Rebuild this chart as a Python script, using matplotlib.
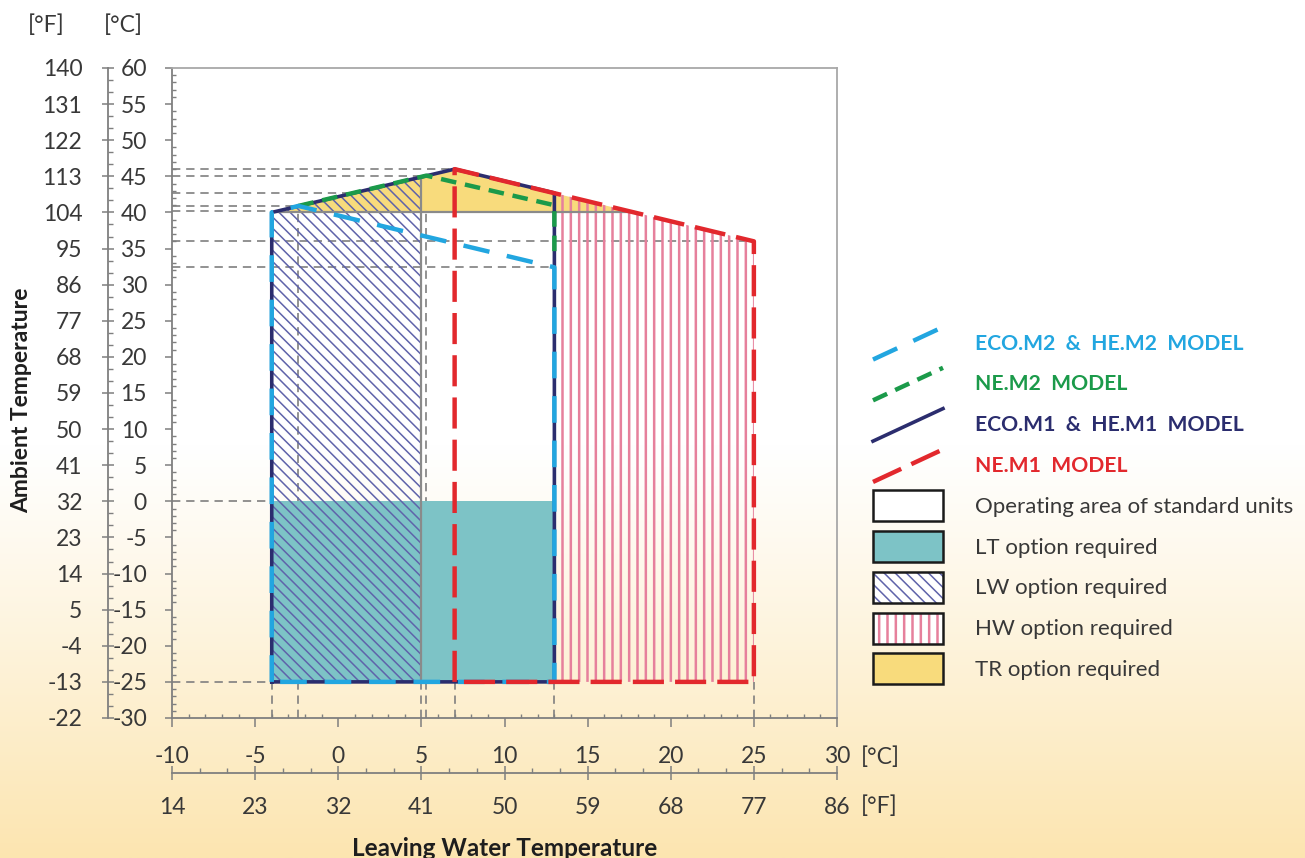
import numpy as np
import matplotlib
matplotlib.use('Agg')
import matplotlib.pyplot as plt
from matplotlib.patches import Rectangle, Patch
from matplotlib.lines import Line2D
from matplotlib.ticker import MultipleLocator
from matplotlib.legend_handler import HandlerBase

plt.rcParams['font.family'] = ['Lato', 'DejaVu Sans']

# ---------------- data ----------------
x_ticks_c = [-10, -5, 0, 5, 10, 15, 20, 25, 30]
x_labels_c = ['-10', '-5', '0', '5', '10', '15', '20', '25', '30']
x_labels_f = ['14', '23', '32', '41', '50', '59', '68', '77', '86']
y_ticks_c = [-30, -25, -20, -15, -10, -5, 0, 5, 10, 15, 20, 25, 30, 35, 40, 45, 50, 55, 60]
y_labels_c = ['-30', '-25', '-20', '-15', '-10', '-5', '0', '5', '10', '15', '20',
              '25', '30', '35', '40', '45', '50', '55', '60']
y_labels_f = ['-22', '-13', '-4', '5', '14', '23', '32', '41', '50', '59', '68',
              '77', '86', '95', '104', '113', '122', '131', '140']

# model envelopes (LWT degC, ambient degC)
eco_m1_x = [-4, -4, 7, 13, 13, -4]
eco_m1_y = [-25, 40, 46, 42.7, -25, -25]
eco_m2_x = [-4, -4, -2.4, 13, 13, -4]
eco_m2_y = [-25, 40, 40.9, 32.4, -25, -25]
ne_m2_x = [-2.4, 5.3, 13, 13]
ne_m2_y = [40.9, 45.1, 41, 33.5]
ne_m1_x = [7, 7, 25, 25, 7]
ne_m1_y = [-25, 46, 36, -25, -25]

# option areas
lt_x = [-4, 13, 13, -4]
lt_y = [-25, -25, 0, 0]
lw_x = [-4, -4, 5, 5]
lw_y = [-25, 40, 44.9, -25]
hw_x = [13, 13, 25, 25]
hw_y = [-25, 42.7, 36, -25]
tr_x = [-4, 7, 17.8]
tr_y = [40, 46, 40]

# guide lines
guide_h_y = [46, 45.1, 42.7, 40.9, 40.2, 36, 32.4, 0, -25]
guide_h_xend = [7, 5.3, 13, -2.4, -4, 25, 13, -4, -4]
guide_v_x = [-4, -2.4, 5, 5.3, 7, 13, 25]
guide_v_ytop = [-25, 40.9, -25, 45.1, -25, -25, -25]

legend_labels = ['ECO.M2  &  HE.M2  MODEL', 'NE.M2  MODEL', 'ECO.M1  &  HE.M1  MODEL',
                 'NE.M1  MODEL', 'Operating area of standard units', 'LT option required',
                 'LW option required', 'HW option required', 'TR option required']

# ---------------- styles ----------------
navy = '#2B2D6E'
blue = '#22A6E0'
green = '#1B9A4A'
red = '#E2282D'
teal = '#7DC3C6'
yellow = '#F8DB7C'
lw_hatch_c = '#5F63AA'
hw_hatch_c = '#E6809C'
gray = '#7F7F7F'
txt = '#383838'
TICK_FS = 16.5

W, H = 1305, 858
fig = plt.figure(figsize=(W / 100, H / 100), dpi=100)

# background gradient
bg = fig.add_axes([0, 0, 1, 1], zorder=-10)
bg.axis('off')
t = np.linspace(0, 1, 500)
frac = np.clip((t - 0.52) / 0.48, 0, 1) ** 1.1
top_c = np.array([255, 255, 255]) / 255
bot_c = np.array([252, 229, 176]) / 255
grad = top_c[None, :] * (1 - frac[:, None]) + bot_c[None, :] * frac[:, None]
bg.imshow(np.repeat(grad[:, None, :], 2, axis=1), aspect='auto',
          extent=[0, 1, 0, 1], origin='upper')
bg.set_xlim(0, 1)
bg.set_ylim(0, 1)

# main axes
ax = fig.add_axes([172 / W, 1 - 718 / H, 665 / W, 650 / H])
ax.set_xlim(-10, 30)
ax.set_ylim(-30, 60)
ax.patch.set_alpha(0)

# guides
for yv, xe in zip(guide_h_y, guide_h_xend):
    ax.plot([-10, xe], [yv, yv], color=gray, lw=1.2, ls=(0, (5, 3.5)), zorder=1)
for xv, yt in zip(guide_v_x, guide_v_ytop):
    ax.plot([xv, xv], [-30, yt], color=gray, lw=1.2, ls=(0, (5, 3.5)), zorder=1)


def set_hlw(p, v):
    if hasattr(p, 'set_hatch_linewidth'):
        p.set_hatch_linewidth(v)


# fills
ax.fill(lt_x, lt_y, facecolor=teal, edgecolor='none', zorder=2)
ax.fill(tr_x, tr_y, facecolor=yellow, edgecolor='none', zorder=2)
with plt.rc_context({'hatch.linewidth': 1.1}):
    p_lw = ax.fill(lw_x, lw_y, facecolor='none', edgecolor=lw_hatch_c,
                   hatch='\\\\\\', linewidth=0, zorder=3)[0]
set_hlw(p_lw, 1.1)
with plt.rc_context({'hatch.linewidth': 1.8}):
    p_hw = ax.fill(hw_x, hw_y, facecolor='none', edgecolor=hw_hatch_c,
                   hatch='||', linewidth=0, zorder=3)[0]
set_hlw(p_hw, 1.8)

# area boundaries (solid gray)
ax.plot([lw_x[0], tr_x[2]], [tr_y[0], tr_y[2]], color='#8A8A8A', lw=1.6, zorder=3.5)
ax.plot([lw_x[2], lw_x[3]], [lw_y[2], lw_y[3]], color='#8A8A8A', lw=1.6, zorder=3.5)

# model lines
ax.plot(eco_m1_x, eco_m1_y, color=navy, lw=2.6, zorder=5)
ax.plot(ne_m2_x, ne_m2_y, color=green, lw=3.2, ls=(0, (3.5, 2)), zorder=6)
ax.plot(eco_m2_x, eco_m2_y, color=blue, lw=3.2, ls=(0, (6, 4)), zorder=7)
ax.plot(ne_m1_x, ne_m1_y, color=red, lw=3.2, ls=(0, (7, 2.5)), zorder=8)

# main axes ticks and spines
for s in ['left', 'bottom']:
    ax.spines[s].set_color(gray)
    ax.spines[s].set_linewidth(1.3)
for s in ['top', 'right']:
    ax.spines[s].set_color('#A8A8A8')
    ax.spines[s].set_linewidth(1.3)
ax.set_yticks(y_ticks_c, y_labels_c)
ax.yaxis.set_minor_locator(MultipleLocator(1))
ax.set_xticks(x_ticks_c)
ax.xaxis.set_minor_locator(MultipleLocator(1))
ax.tick_params(axis='y', which='major', direction='out', length=5, width=1.1,
               color=gray, pad=13, labelsize=TICK_FS, labelcolor=txt)
ax.tick_params(axis='y', which='minor', direction='in', length=3, width=1, color=gray)
ax.tick_params(axis='x', which='major', direction='out', length=6.5, width=1.1,
               color=gray, labelbottom=False)
ax.tick_params(axis='x', which='minor', direction='in', length=3, width=1, color=gray)

# left Fahrenheit axis
axf = fig.add_axes([108 / W, 1 - 718 / H, 0.0001, 650 / H])
axf.set_ylim(-30, 60)
axf.patch.set_alpha(0)
for s in ['top', 'right', 'bottom']:
    axf.spines[s].set_visible(False)
axf.spines['left'].set_color(gray)
axf.spines['left'].set_linewidth(1.3)
axf.set_xticks([])
axf.set_yticks(y_ticks_c, y_labels_f)
axf.yaxis.set_minor_locator(MultipleLocator(5 / 3))
axf.tick_params(axis='y', which='major', direction='inout', length=9, width=1.1,
                color=gray, pad=14, labelsize=TICK_FS, labelcolor=txt)
axf.tick_params(axis='y', which='minor', direction='in', length=3.5, width=1, color=gray)

# bottom double axis
axb = fig.add_axes([172 / W, 1 - 773 / H, 665 / W, 0.0001])
axb.set_xlim(-10, 30)
axb.patch.set_alpha(0)
for s in ['top', 'right', 'left']:
    axb.spines[s].set_visible(False)
axb.spines['bottom'].set_color(gray)
axb.spines['bottom'].set_linewidth(1.3)
axb.set_yticks([])
axb.set_xticks(x_ticks_c, x_labels_f)
axb.xaxis.set_minor_locator(MultipleLocator(5 / 3))
axb.tick_params(axis='x', which='major', direction='inout', length=9.5, width=1.1,
                color=gray, pad=12.5, labelsize=TICK_FS, labelcolor=txt)
axb.tick_params(axis='x', which='minor', direction='in', length=3.5, width=1, color=gray)

axt = fig.add_axes([172 / W, 1 - 773 / H, 665 / W, 0.0001])
axt.set_xlim(-10, 30)
axt.patch.set_alpha(0)
for s in axt.spines.values():
    s.set_visible(False)
axt.set_yticks([])
axt.set_xticks(x_ticks_c, x_labels_c)
axt.tick_params(axis='x', which='both', bottom=False, top=False, length=0,
                labelbottom=False, labeltop=True, pad=4.5, labelsize=TICK_FS,
                labelcolor=txt)

# unit labels and axis titles
fig.text(46 / W, 1 - 25 / H, '[°F]', ha='center', va='center', fontsize=TICK_FS, color=txt)
fig.text(123 / W, 1 - 25 / H, '[°C]', ha='center', va='center', fontsize=TICK_FS, color=txt)
fig.text(861 / W, 1 - 757 / H, '[°C]', ha='left', va='center', fontsize=TICK_FS, color=txt)
fig.text(861 / W, 1 - 806 / H, '[°F]', ha='left', va='center', fontsize=TICK_FS, color=txt)
fig.text(22 / W, 1 - 400 / H, 'Ambient Temperature', rotation=90, ha='center',
         va='center', fontsize=16.5, fontweight='bold', color='#1E1E1E')
fig.text(505 / W, 1 - 849 / H, 'Leaving Water Temperature', ha='center',
         va='center', fontsize=17.5, fontweight='bold', color='#1E1E1E')


# ---------------- legend ----------------
class HandlerDiag(HandlerBase):
    def create_artists(self, legend, orig_handle, xdescent, ydescent, width,
                       height, fontsize, trans):
        x0, y0 = -xdescent, -ydescent
        ln = Line2D([x0, x0 + width], [y0 - 0.05 * height, y0 + 1.0 * height])
        ln.update_from(orig_handle)
        ln.set_transform(trans)
        return [ln]


class HandlerBox(HandlerBase):
    def create_artists(self, legend, orig_handle, xdescent, ydescent, width,
                       height, fontsize, trans):
        x0, y0 = -xdescent, -ydescent
        with plt.rc_context({'hatch.linewidth': orig_handle.hlw}):
            fill = Rectangle((x0, y0), width, height,
                             facecolor=orig_handle.get_facecolor(),
                             edgecolor=orig_handle.hcolor,
                             hatch=orig_handle.get_hatch(), linewidth=0,
                             transform=trans)
        set_hlw(fill, orig_handle.hlw)
        border = Rectangle((x0, y0), width, height, facecolor='none',
                           edgecolor='#1A1A1A', linewidth=1.8, transform=trans)
        return [fill, border]


h_lines = [Line2D([], [], color=blue, lw=3.2, ls=(0, (6, 4))),
           Line2D([], [], color=green, lw=3.2, ls=(0, (3.5, 2))),
           Line2D([], [], color=navy, lw=2.6),
           Line2D([], [], color=red, lw=3.2, ls=(0, (7, 2.5)))]
box_specs = [('white', None, 'white', 1.0), (teal, None, teal, 1.0),
             ('white', '\\\\\\', lw_hatch_c, 1.1), ('white', '||', hw_hatch_c, 1.8),
             (yellow, None, yellow, 1.0)]
h_boxes = []
for fc, hatch, hc, hl in box_specs:
    p = Patch(facecolor=fc, hatch=hatch)
    p.hcolor = hc
    p.hlw = hl
    h_boxes.append(p)
handles = h_lines + h_boxes
hmap = {h: HandlerDiag() for h in h_lines}
hmap.update({h: HandlerBox() for h in h_boxes})
fs = 16
fs_px = fs * 100 / 72
box_h = 31
hh = (box_h / fs_px - 0.245) / 0.65
leg = fig.legend(handles, legend_labels, handler_map=hmap, loc='upper left',
                 bbox_to_anchor=(873 / W, 1 - 327 / H), frameon=False,
                 borderpad=0, borderaxespad=0, fontsize=fs,
                 handlelength=70 / fs_px, handleheight=hh,
                 labelspacing=9.8 / fs_px, handletextpad=32 / fs_px)
text_colors = [blue, green, navy, red, txt, txt, txt, txt, txt]
for i, (tx, c) in enumerate(zip(leg.get_texts(), text_colors)):
    tx.set_color(c)
    if i < 4:
        tx.set_fontweight('bold')
        tx.set_fontsize(15.2)

fig.savefig('out.png', dpi=100)
